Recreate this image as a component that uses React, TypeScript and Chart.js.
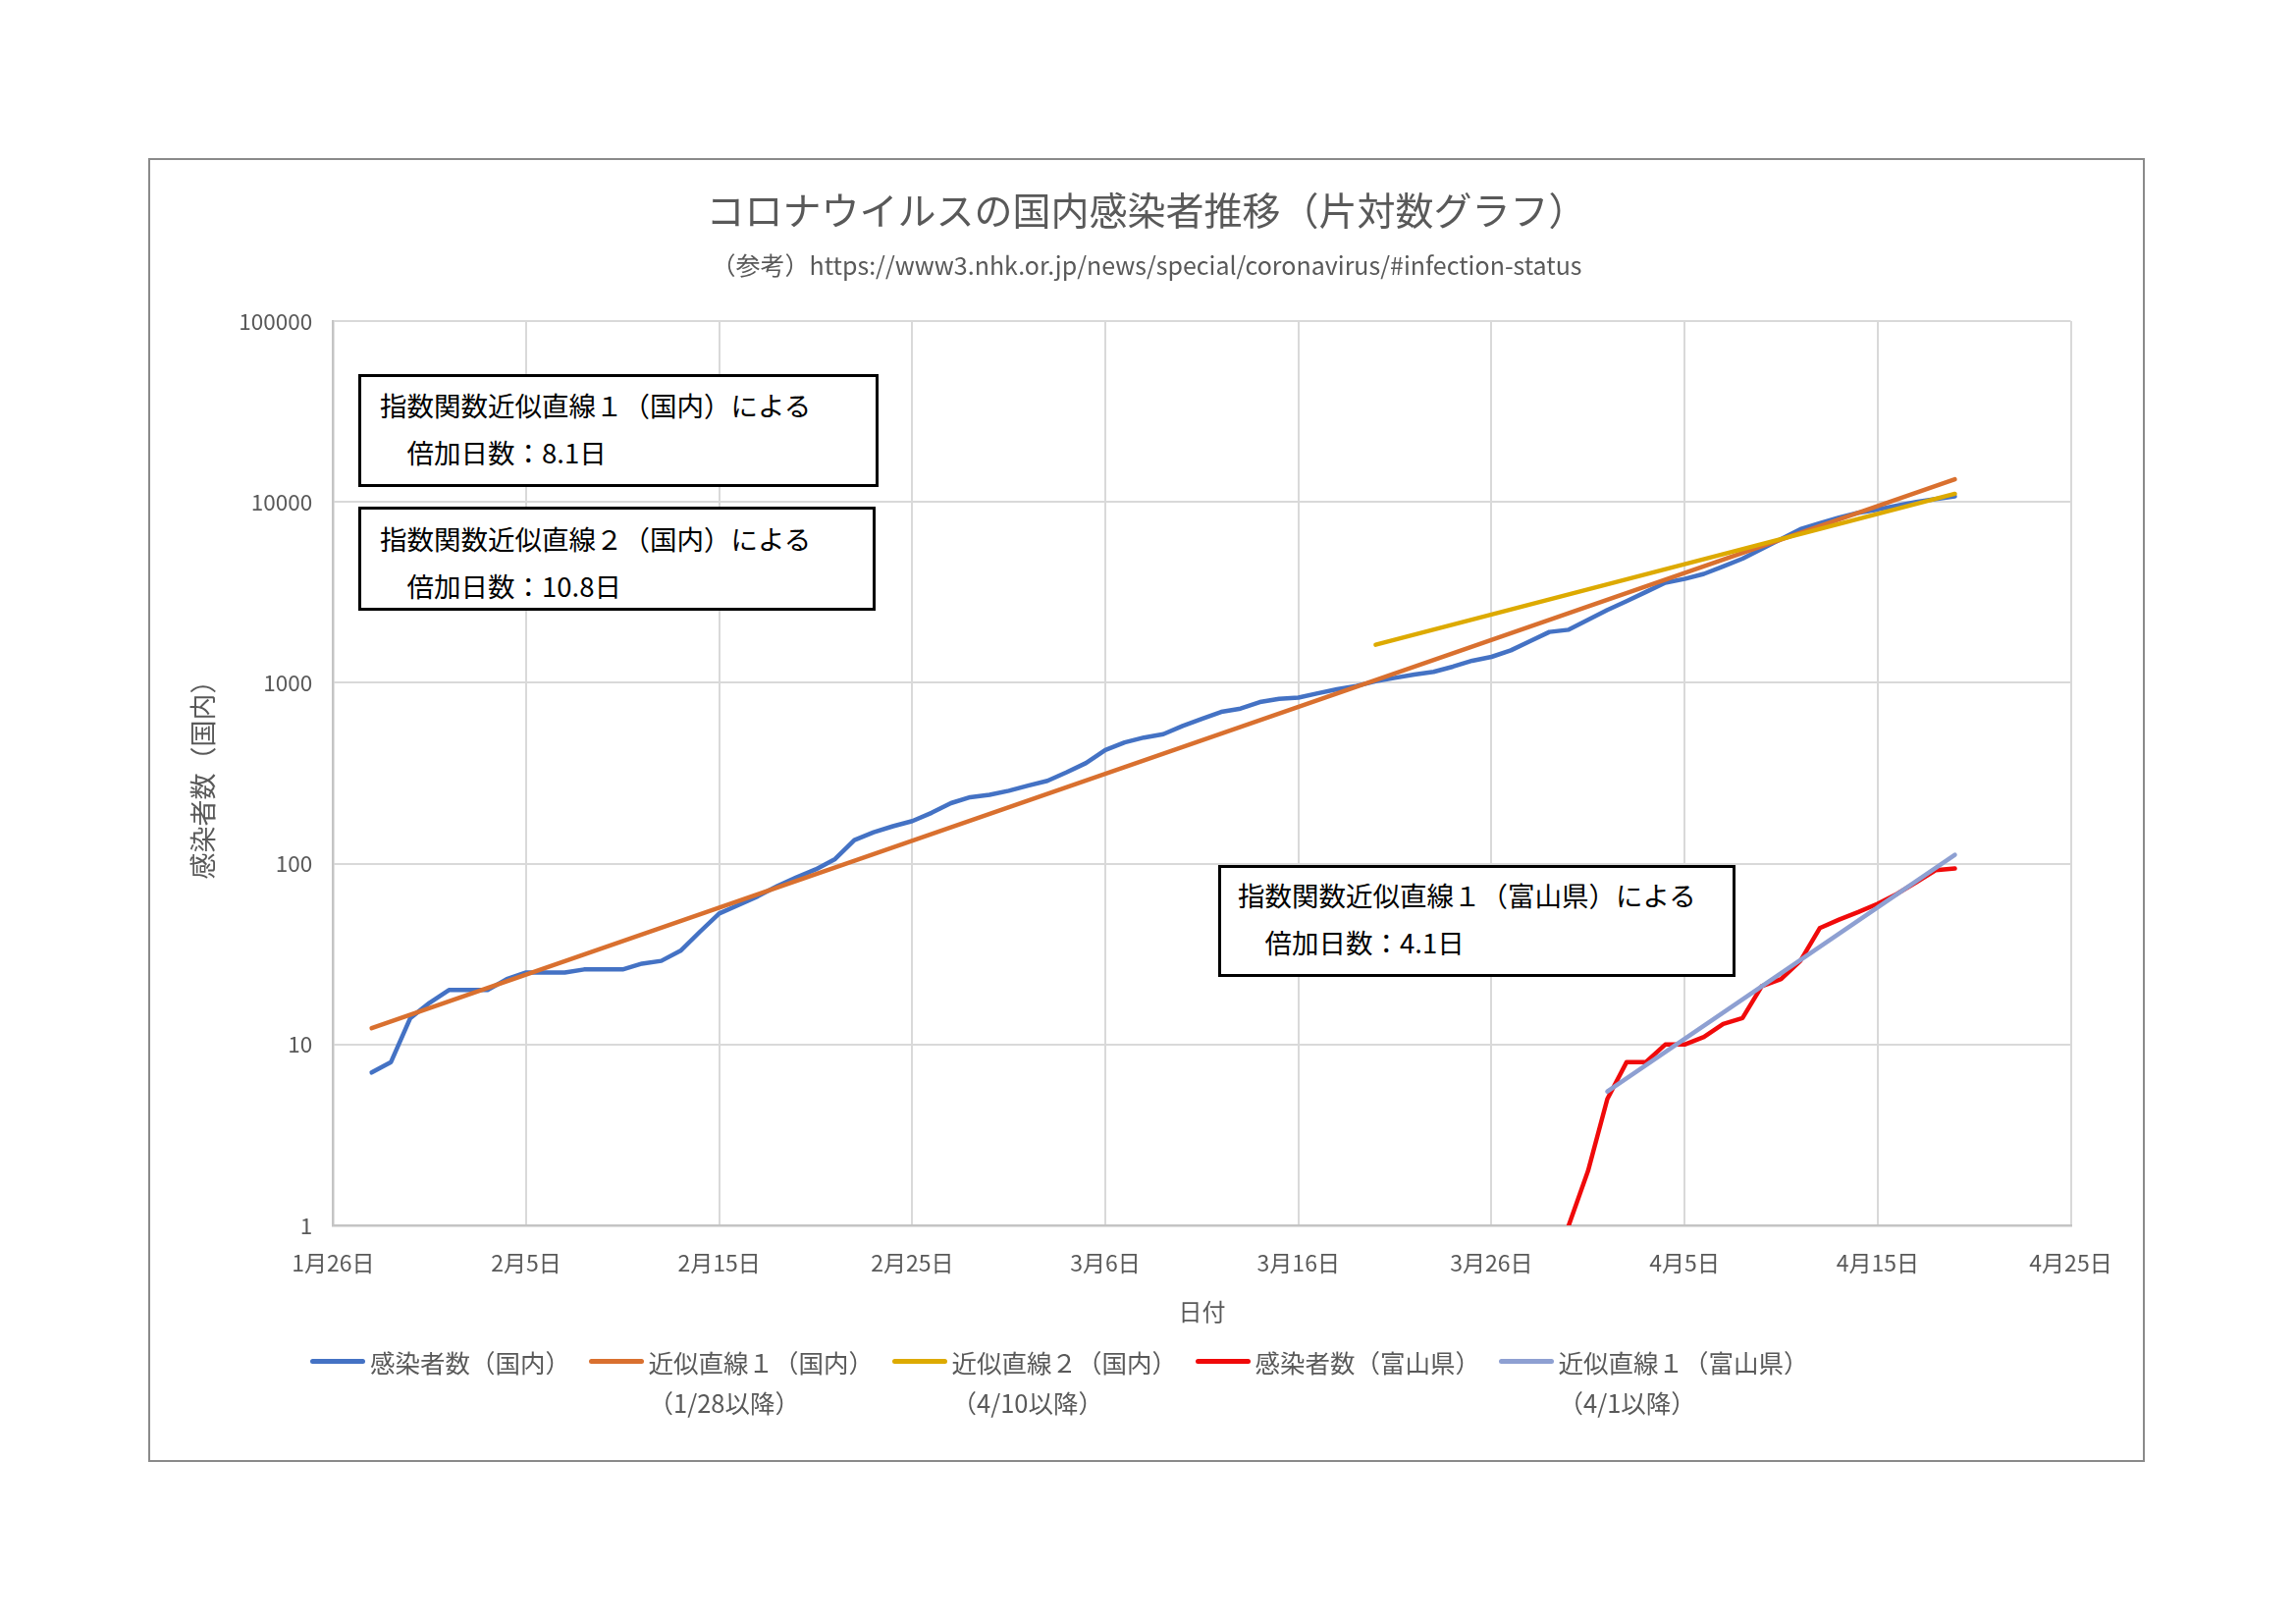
import React, { useEffect, useRef } from "react";
import { Chart, registerables } from "chart.js";

Chart.register(...registerables);

// ---- data (day index: 0 = 1月26日) ----
const xTickLabels = ["1月26日", "2月5日", "2月15日", "2月25日", "3月6日", "3月16日", "3月26日", "4月5日", "4月15日", "4月25日"];
const yTickValues = [1, 10, 100, 1000, 10000, 100000];

const domesticStartDay = 2; // 1/28
const domesticCases = [
  7, 8, 14, 17, 20, 20, 20, 23, 25, 25,
  25, 26, 26, 26, 28, 29, 33, 42, 53, 59,
  66, 75, 84, 93, 106, 135, 149, 161, 172, 191,
  216, 233, 240, 253, 270, 287, 320, 360, 425, 468,
  498, 520, 577, 632, 690, 720, 782, 815, 828, 875,
  920, 960, 1020, 1065, 1110, 1150, 1228, 1324, 1391, 1511,
  1700, 1910, 1965, 2228, 2526, 2827, 3178, 3571, 3750, 4000,
  4400, 4855, 5505, 6240, 7070, 7620, 8180, 8710, 9080, 9550,
  10000, 10380, 10720,
];

const toyamaStartDay = 64; // 3/30
const toyamaCases = [1, 2, 5, 8, 8, 10, 10, 11, 13, 14, 21, 23, 29, 44, 49, 54, 60, 68, 79, 92, 94];

const trend1Days = [2, 84];
const trend1Values = [12.3, 13340];
const trend2Days = [54, 84];
const trend2Values = [1623, 11090];
const trendToyamaDays = [66, 84];
const trendToyamaValues = [5.5, 112];

const seriesLabels = ["感染者数（国内）", "近似直線１（国内）", "近似直線２（国内）", "感染者数（富山県）", "近似直線１（富山県）"];
const seriesNotes = ["", "（1/28以降）", "（4/10以降）", "", "（4/1以降）"];
const seriesColors = ["#4472C4", "#D9702F", "#DDAA00", "#F00A0A", "#8EA0D2"];

const chartTitle = "コロナウイルスの国内感染者推移（片対数グラフ）";
const chartSubtitle = "（参考）https://www3.nhk.or.jp/news/special/coronavirus/#infection-status";
const xAxisTitle = "日付";
const yAxisTitle = "感染者数（国内）";

const noteLines = [
  ["指数関数近似直線１（国内）による", "　倍加日数：8.1日"],
  ["指数関数近似直線２（国内）による", "　倍加日数：10.8日"],
  ["指数関数近似直線１（富山県）による", "　倍加日数：4.1日"],
];

const FONT = "'Noto Sans CJK JP', 'Noto Sans', sans-serif";
const TEXT_GRAY = "#595959";

export default function App() {
  const canvasRef = useRef<HTMLCanvasElement>(null);

  useEffect(() => {
    const seq = (start: number, vals: number[]) => vals.map((v, i) => ({ x: start + i, y: v }));
    const pairs = (days: number[], vals: number[]) => vals.map((v, i) => ({ x: days[i], y: v }));
    const series = [
      seq(domesticStartDay, domesticCases),
      pairs(trend1Days, trend1Values),
      pairs(trend2Days, trend2Values),
      seq(toyamaStartDay, toyamaCases),
      pairs(trendToyamaDays, trendToyamaValues),
    ];
    const orders = [5, 4, 3, 2, 1];

    const chart = new Chart(canvasRef.current as HTMLCanvasElement, {
      type: "line",
      data: {
        datasets: series.map((d, i) => ({
          label: seriesLabels[i],
          data: d,
          borderColor: seriesColors[i],
          backgroundColor: seriesColors[i],
          order: orders[i],
          fill: false,
        })),
      },
      options: {
        animation: false,
        responsive: true,
        maintainAspectRatio: false,
        layout: { padding: { left: 190.8, top: 327, right: 229.5, bottom: 303.5 } },
        plugins: {
          legend: { display: false },
          title: { display: false },
          tooltip: { enabled: false },
        },
        elements: {
          point: { radius: 0, hoverRadius: 0 },
          line: { borderWidth: 4.5, tension: 0, borderJoinStyle: "round", borderCapStyle: "round" },
        },
        scales: {
          x: {
            type: "linear",
            min: 0,
            max: 90,
            afterBuildTicks: (s: any) => {
              s.ticks = xTickLabels.map((_, i) => ({ value: i * 10 }));
            },
            afterFit: (s: any) => {
              s.height = 102.5;
            },
            ticks: {
              autoSkip: false,
              maxRotation: 0,
              padding: 24,
              color: TEXT_GRAY,
              font: { family: FONT, size: 23 },
              callback: (v: any) => xTickLabels[Math.round(Number(v) / 10)],
            },
            grid: { color: "#d9d9d9", lineWidth: 2, drawTicks: false },
            border: { display: true, color: "#c4c4c4", width: 2.5 },
            title: {
              display: true,
              text: xAxisTitle,
              color: TEXT_GRAY,
              font: { family: FONT, size: 24 },
              padding: 0,
            },
          },
          y: {
            type: "logarithmic",
            min: 1,
            max: 100000,
            afterBuildTicks: (s: any) => {
              s.ticks = yTickValues.map((v) => ({ value: v }));
            },
            afterFit: (s: any) => {
              s.width = 148.5;
            },
            ticks: {
              autoSkip: false,
              padding: 21,
              color: TEXT_GRAY,
              font: { family: FONT, size: 22.5 },
              callback: (v: any) => String(v),
            },
            grid: { color: "#d9d9d9", lineWidth: 2, drawTicks: false },
            border: { display: true, color: "#c4c4c4", width: 2.5 },
            title: {
              display: true,
              text: yAxisTitle,
              color: TEXT_GRAY,
              font: { family: FONT, size: 27 },
              padding: 0,
            },
          },
        },
      },
    });
    return () => chart.destroy();
  }, []);

  const noteBoxes = [
    { left: 365, top: 381, width: 530, height: 115, padTop: 5, padLeft: 19 },
    { left: 365, top: 516, width: 527, height: 106, padTop: 6, padLeft: 19 },
    { left: 1241, top: 881, width: 527, height: 114, padTop: 4, padLeft: 17 },
  ];

  return (
    <div style={{ position: "absolute", left: 0, top: 0, width: 2339, height: 1654, background: "#fff", fontFamily: FONT }}>
      <div
        style={{
          position: "absolute",
          left: 151,
          top: 161,
          width: 2034,
          height: 1328,
          border: "2px solid #8a8a8a",
          boxSizing: "border-box",
        }}
      />
      <div style={{ position: "absolute", left: 0, top: 0, width: 2339, height: 1654 }}>
        <canvas ref={canvasRef} />
      </div>
      <div
        style={{
          position: "absolute",
          left: 151,
          width: 2034,
          top: 187,
          height: 50,
          lineHeight: "50px",
          textAlign: "center",
          fontSize: 39,
          color: TEXT_GRAY,
          whiteSpace: "nowrap",
        }}
      >
        {chartTitle}
      </div>
      <div
        style={{
          position: "absolute",
          left: 151,
          width: 2034,
          top: 252,
          height: 34,
          lineHeight: "34px",
          textAlign: "center",
          fontSize: 25,
          color: TEXT_GRAY,
          whiteSpace: "nowrap",
        }}
      >
        {chartSubtitle}
      </div>
      {noteBoxes.map((b, i) => (
        <div
          key={i}
          style={{
            position: "absolute",
            left: b.left,
            top: b.top,
            width: b.width,
            height: b.height,
            border: "3px solid #000",
            boxSizing: "border-box",
            background: "#fff",
            paddingTop: b.padTop,
            paddingLeft: b.padLeft,
            fontSize: 27.5,
            lineHeight: "47.5px",
            color: "#000",
            whiteSpace: "nowrap",
          }}
        >
          {noteLines[i].map((t, j) => (
            <div key={j}>{t}</div>
          ))}
        </div>
      ))}
      <div
        style={{
          position: "absolute",
          left: 316,
          top: 1366,
          display: "flex",
          alignItems: "flex-start",
          gap: 18.5,
          fontSize: 25.5,
          lineHeight: "41px",
          color: TEXT_GRAY,
          whiteSpace: "nowrap",
        }}
      >
        {seriesLabels.map((lab, i) => (
          <div key={i} style={{ display: "flex", alignItems: "flex-start" }}>
            <div
              style={{
                width: 56,
                height: 5,
                borderRadius: 2.5,
                background: seriesColors[i],
                marginTop: 18,
                marginRight: 5,
              }}
            />
            <div>
              <div>{lab}</div>
              {seriesNotes[i] ? <div>{seriesNotes[i]}</div> : null}
            </div>
          </div>
        ))}
      </div>
    </div>
  );
}
